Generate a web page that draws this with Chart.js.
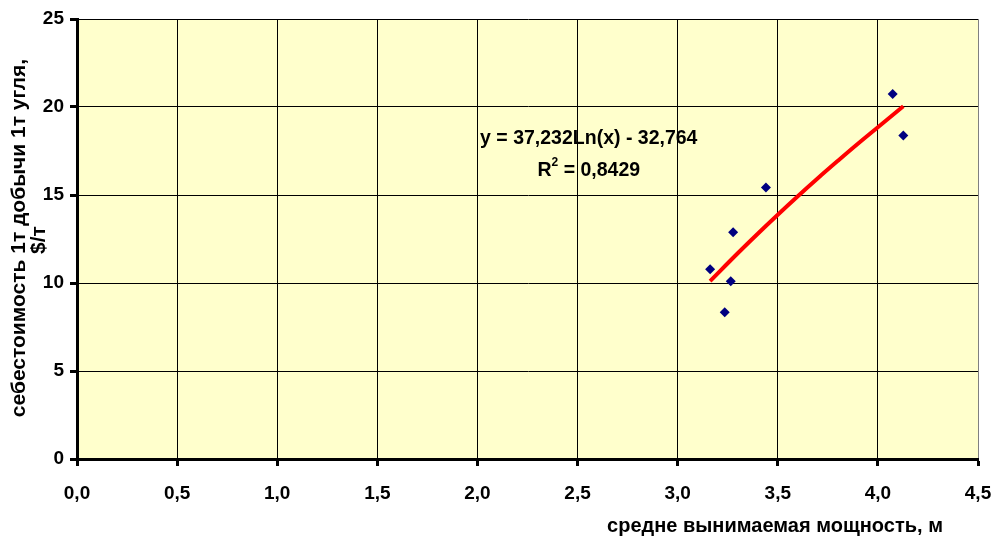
<!DOCTYPE html>
<html>
<head>
<meta charset="utf-8">
<script src="https://cdn.jsdelivr.net/npm/chart.js@4/dist/chart.umd.min.js"></script>
<style>
  html, body { margin: 0; padding: 0; background: #fff; }
  #wrap { width: 994px; height: 539px; }
</style>
</head>
<body>
<div id="wrap"><canvas id="chart" width="994" height="539"></canvas></div>
<script>
// measured points (мощность, м ; себестоимость, $/т)
var moshchnost = [3.162, 3.277, 3.265, 3.235, 3.441, 4.074, 4.127];
var sebestoimost = [10.78, 12.88, 10.10, 8.34, 15.42, 20.74, 18.38];

// logarithmic trend line
var trendX = [3.162, 3.3, 3.4, 3.5, 3.6, 3.7, 3.8, 3.9, 4.0, 4.127];
var trendY = [10.11, 11.69, 12.80, 13.88, 14.93, 15.95, 16.94, 17.91, 18.85, 20.04];

var xTitle = 'средне вынимаемая мощность, м';
var yTitle1 = 'себестоимость 1т добычи 1т угля,';
var yTitle2 = '$/т';
var eqText = 'y = 37,232Ln(x) - 32,764';
var r2Text = ' = 0,8429';

var FONT = '"Liberation Sans", Arial, sans-serif';
var FS = 19;

function pts(xs, ys) {
  return xs.map(function (v, i) { return { x: v, y: ys[i] }; });
}

var plotBg = {
  id: 'plotBg',
  beforeDraw: function (chart) {
    var a = chart.chartArea, ctx = chart.ctx;
    ctx.save();
    ctx.fillStyle = '#FFFFCC';
    ctx.fillRect(a.left, a.top, a.right - a.left, a.bottom - a.top);
    ctx.restore();
  }
};

var texts = {
  id: 'texts',
  afterDraw: function (chart) {
    var ctx = chart.ctx;
    var sx = chart.scales.x, sy = chart.scales.y;
    var big = 'bold 19.5px ' + FONT;
    var small = 'bold 12px ' + FONT;
    ctx.save();
    ctx.fillStyle = '#000';
    ctx.textBaseline = 'middle';
    ctx.textAlign = 'center';
    // x title
    ctx.font = 'bold 20px ' + FONT;
    ctx.fillText(xTitle, 775, 526);
    // y title
    ctx.save();
    ctx.font = 'bold 21px ' + FONT;
    ctx.translate(19, 238);
    ctx.rotate(-Math.PI / 2);
    ctx.fillText(yTitle1, 0, 0);
    ctx.fillText(yTitle2, -2, 20);
    ctx.restore();
    // equation label
    ctx.font = big;
    var cx = sx.getPixelForValue(2.556);
    ctx.fillText(eqText, cx, sy.getPixelForValue(18.22));
    var y2 = sy.getPixelForValue(16.4);
    var wR = ctx.measureText('R').width;
    var wRest = ctx.measureText(r2Text).width;
    ctx.font = small;
    var wSup = ctx.measureText('2').width;
    var x0 = cx - (wR + wSup + wRest) / 2;
    ctx.textAlign = 'left';
    ctx.font = big;
    ctx.fillText('R', x0, y2);
    ctx.font = small;
    ctx.fillText('2', x0 + wR, y2 - 8);
    ctx.font = big;
    ctx.fillText(r2Text, x0 + wR + wSup, y2);
    ctx.restore();
  }
};

new Chart(document.getElementById('chart'), {
  type: 'scatter',
  data: {
    datasets: [
      {
        label: 'trend',
        type: 'line',
        data: pts(trendX, trendY),
        borderColor: '#FF0000',
        borderWidth: 4,
        pointRadius: 0,
        tension: 0.4,
        fill: false,
        order: 2
      },
      {
        label: 'data',
        data: pts(moshchnost, sebestoimost),
        pointStyle: 'rectRot',
        pointRadius: 5,
        backgroundColor: '#000080',
        borderColor: '#000080',
        borderWidth: 0,
        order: 1
      }
    ]
  },
  options: {
    responsive: false,
    animation: false,
    layout: { padding: { left: 0, right: 0, top: 19, bottom: 0 } },
    plugins: { legend: { display: false }, tooltip: { enabled: false } },
    scales: {
      x: {
        type: 'linear',
        min: 0, max: 4.5,
        afterFit: function (s) { s.height = 80; s.paddingRight = 16; },
        afterBuildTicks: function (s) {
          s.ticks = [0, 0.5, 1, 1.5, 2, 2.5, 3, 3.5, 4, 4.5].map(function (v) { return { value: v }; });
        },
        border: { color: '#000', width: 3 },
        grid: {
          color: function (c) { return c.tick && c.tick.value === 4.5 ? '#808080' : '#000'; },
          lineWidth: 1,
          tickLength: 7,
          tickWidth: 3,
          tickColor: '#000'
        },
        ticks: {
          padding: 16,
          color: '#000',
          font: { family: FONT, size: FS, weight: 'bold' },
          callback: function (v) { return v.toFixed(1).replace('.', ','); }
        }
      },
      y: {
        min: 0, max: 25,
        afterFit: function (s) { s.width = 77; s.paddingTop = 0; },
        border: { color: '#000', width: 3 },
        grid: {
          color: '#000',
          lineWidth: 1,
          tickLength: 7,
          tickWidth: 3,
          tickColor: '#000'
        },
        ticks: {
          stepSize: 5,
          padding: 6,
          color: '#000',
          font: { family: FONT, size: FS, weight: 'bold' }
        }
      }
    }
  },
  plugins: [plotBg, texts]
});
</script>
</body>
</html>
